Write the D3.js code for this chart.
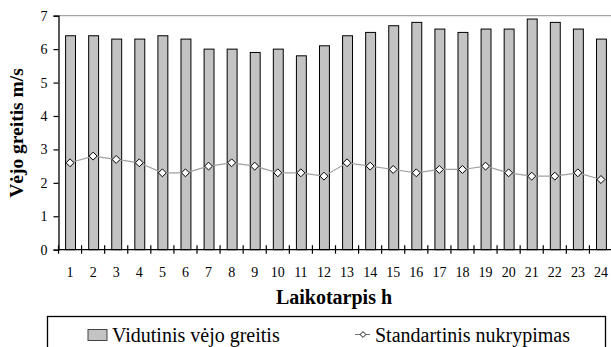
<!DOCTYPE html>
<html><head><meta charset="utf-8">
<script src="https://cdn.jsdelivr.net/npm/d3@7/dist/d3.min.js"></script>
<style>body{margin:0;background:#fff}svg{display:block}svg text{font-family:'Liberation Serif','Tinos','Times New Roman','DejaVu Serif',serif !important}</style>
</head><body><svg id="c" width="611" height="347"></svg>
<script>
const hours = ["1","2","3","4","5","6","7","8","9","10","11","12","13","14","15","16","17","18","19","20","21","22","23","24"];
const meanSpeed = [6.4,6.4,6.3,6.3,6.4,6.3,6.0,6.0,5.9,6.0,5.8,6.1,6.4,6.5,6.7,6.8,6.6,6.5,6.6,6.6,6.9,6.8,6.6,6.3];
const stdDev = [2.6,2.8,2.7,2.6,2.3,2.3,2.5,2.6,2.5,2.3,2.3,2.2,2.6,2.5,2.4,2.3,2.4,2.4,2.5,2.3,2.2,2.2,2.3,2.1];
const yTicks = [0,1,2,3,4,5,6,7];
const yTitle = "Vėjo greitis m/s";
const xTitle = "Laikotarpis h";
const legendLabels = ["Vidutinis vėjo greitis","Standartinis nukrypimas"];

const FONT = "'Liberation Serif','Tinos','Times New Roman','DejaVu Serif',serif";
const svg = d3.select("#c");
const L = 58.5, R = 612.5, T = 15.7, B = 249.7;
const x = d3.scaleBand().domain(hours).range([L, R]).paddingInner(0.57).paddingOuter(0.285);
const xb = d3.scaleBand().domain(hours).range([L, R]);
const y = d3.scaleLinear().domain([0,7]).range([B, T]);

// top grid line
svg.append("line").attr("x1", L).attr("x2", 611).attr("y1", y(7)).attr("y2", y(7))
  .attr("stroke", "#a6a6a6").attr("stroke-width", 1.3);

// bars
svg.append("g").selectAll("rect").data(meanSpeed).join("rect")
  .attr("x", (d,i) => x(hours[i]) + 0.5)
  .attr("width", x.bandwidth())
  .attr("y", d => y(d))
  .attr("height", d => y(0) - y(d))
  .attr("fill", "#c3c3c3").attr("stroke", "#000").attr("stroke-width", 1);

// y axis
const ya = svg.append("g").attr("transform", `translate(${L},0)`)
  .call(d3.axisLeft(y).tickValues(yTicks).tickSize(5).tickPadding(6).tickFormat(d3.format("d")));
ya.attr("font-family", FONT);
ya.select(".domain").attr("stroke", "#000").attr("stroke-width", 1.3);
ya.selectAll(".tick line").attr("stroke", "#000").attr("stroke-width", 1.2);
ya.selectAll("text").attr("font-size", 14).attr("fill", "#000").style("font-family", FONT);

// x axis line
svg.append("line").attr("x1", L).attr("x2", 611).attr("y1", B).attr("y2", B).attr("stroke", "#000").attr("stroke-width", 1.3);
// band boundary ticks
const bounds = hours.map(h => xb(h)).concat([R]);
svg.append("g").selectAll("line").data(bounds).join("line")
  .attr("x1", d => d).attr("x2", d => d).attr("y1", B - 4.5).attr("y2", B + 4)
  .attr("stroke", "#000").attr("stroke-width", 1.2);
svg.append("g").selectAll("text").data(hours).join("text")
  .attr("x", d => xb(d) + xb.bandwidth()/2).attr("y", 277)
  .attr("text-anchor", "middle").attr("font-size", 14).style("font-family", FONT).text(d => d);

// std dev line
const line = d3.line().x((d,i) => xb(hours[i]) + xb.bandwidth()/2).y(d => y(d));
svg.append("path").datum(stdDev).attr("d", line).attr("fill", "none")
  .attr("stroke", "#a0a0a0").attr("stroke-width", 1.2);
const sym = d3.symbol().type(d3.symbolDiamond2).size(40);
svg.append("g").selectAll("path").data(stdDev).join("path")
  .attr("transform", (d,i) => `translate(${xb(hours[i]) + xb.bandwidth()/2},${y(d)})`)
  .attr("d", sym).attr("fill", "#fff").attr("stroke", "#000").attr("stroke-width", 1);

// titles
svg.append("text").attr("transform", "translate(23,133) rotate(-90)")
  .attr("text-anchor", "middle").attr("font-weight", "bold").attr("font-size", 19.5).style("font-family", FONT).text(yTitle);
svg.append("text").attr("x", 334).attr("y", 304)
  .attr("text-anchor", "middle").attr("font-weight", "bold").attr("font-size", 20).style("font-family", FONT).text(xTitle);

// legend
svg.append("rect").attr("x", 47.5).attr("y", 316.5).attr("width", 558).attr("height", 60)
  .attr("fill", "none").attr("stroke", "#000").attr("stroke-width", 1.3);
svg.append("rect").attr("x", 88).attr("y", 329.5).attr("width", 19).attr("height", 11)
  .attr("fill", "#c3c3c3").attr("stroke", "#444").attr("stroke-width", 1);
svg.append("text").attr("x", 112).attr("y", 341.5).attr("font-size", 20).style("font-family", FONT).text(legendLabels[0]);
svg.append("line").attr("x1", 355).attr("x2", 370).attr("y1", 334.5).attr("y2", 334.5)
  .attr("stroke", "#777").attr("stroke-width", 1);
svg.append("path").attr("transform", "translate(363,334.5)").attr("d", d3.symbol().type(d3.symbolDiamond2).size(22))
  .attr("fill", "#fff").attr("stroke", "#000").attr("stroke-width", 0.9);
svg.append("text").attr("x", 375).attr("y", 341.5).attr("font-size", 20).style("font-family", FONT).text(legendLabels[1]);
</script></body></html>
